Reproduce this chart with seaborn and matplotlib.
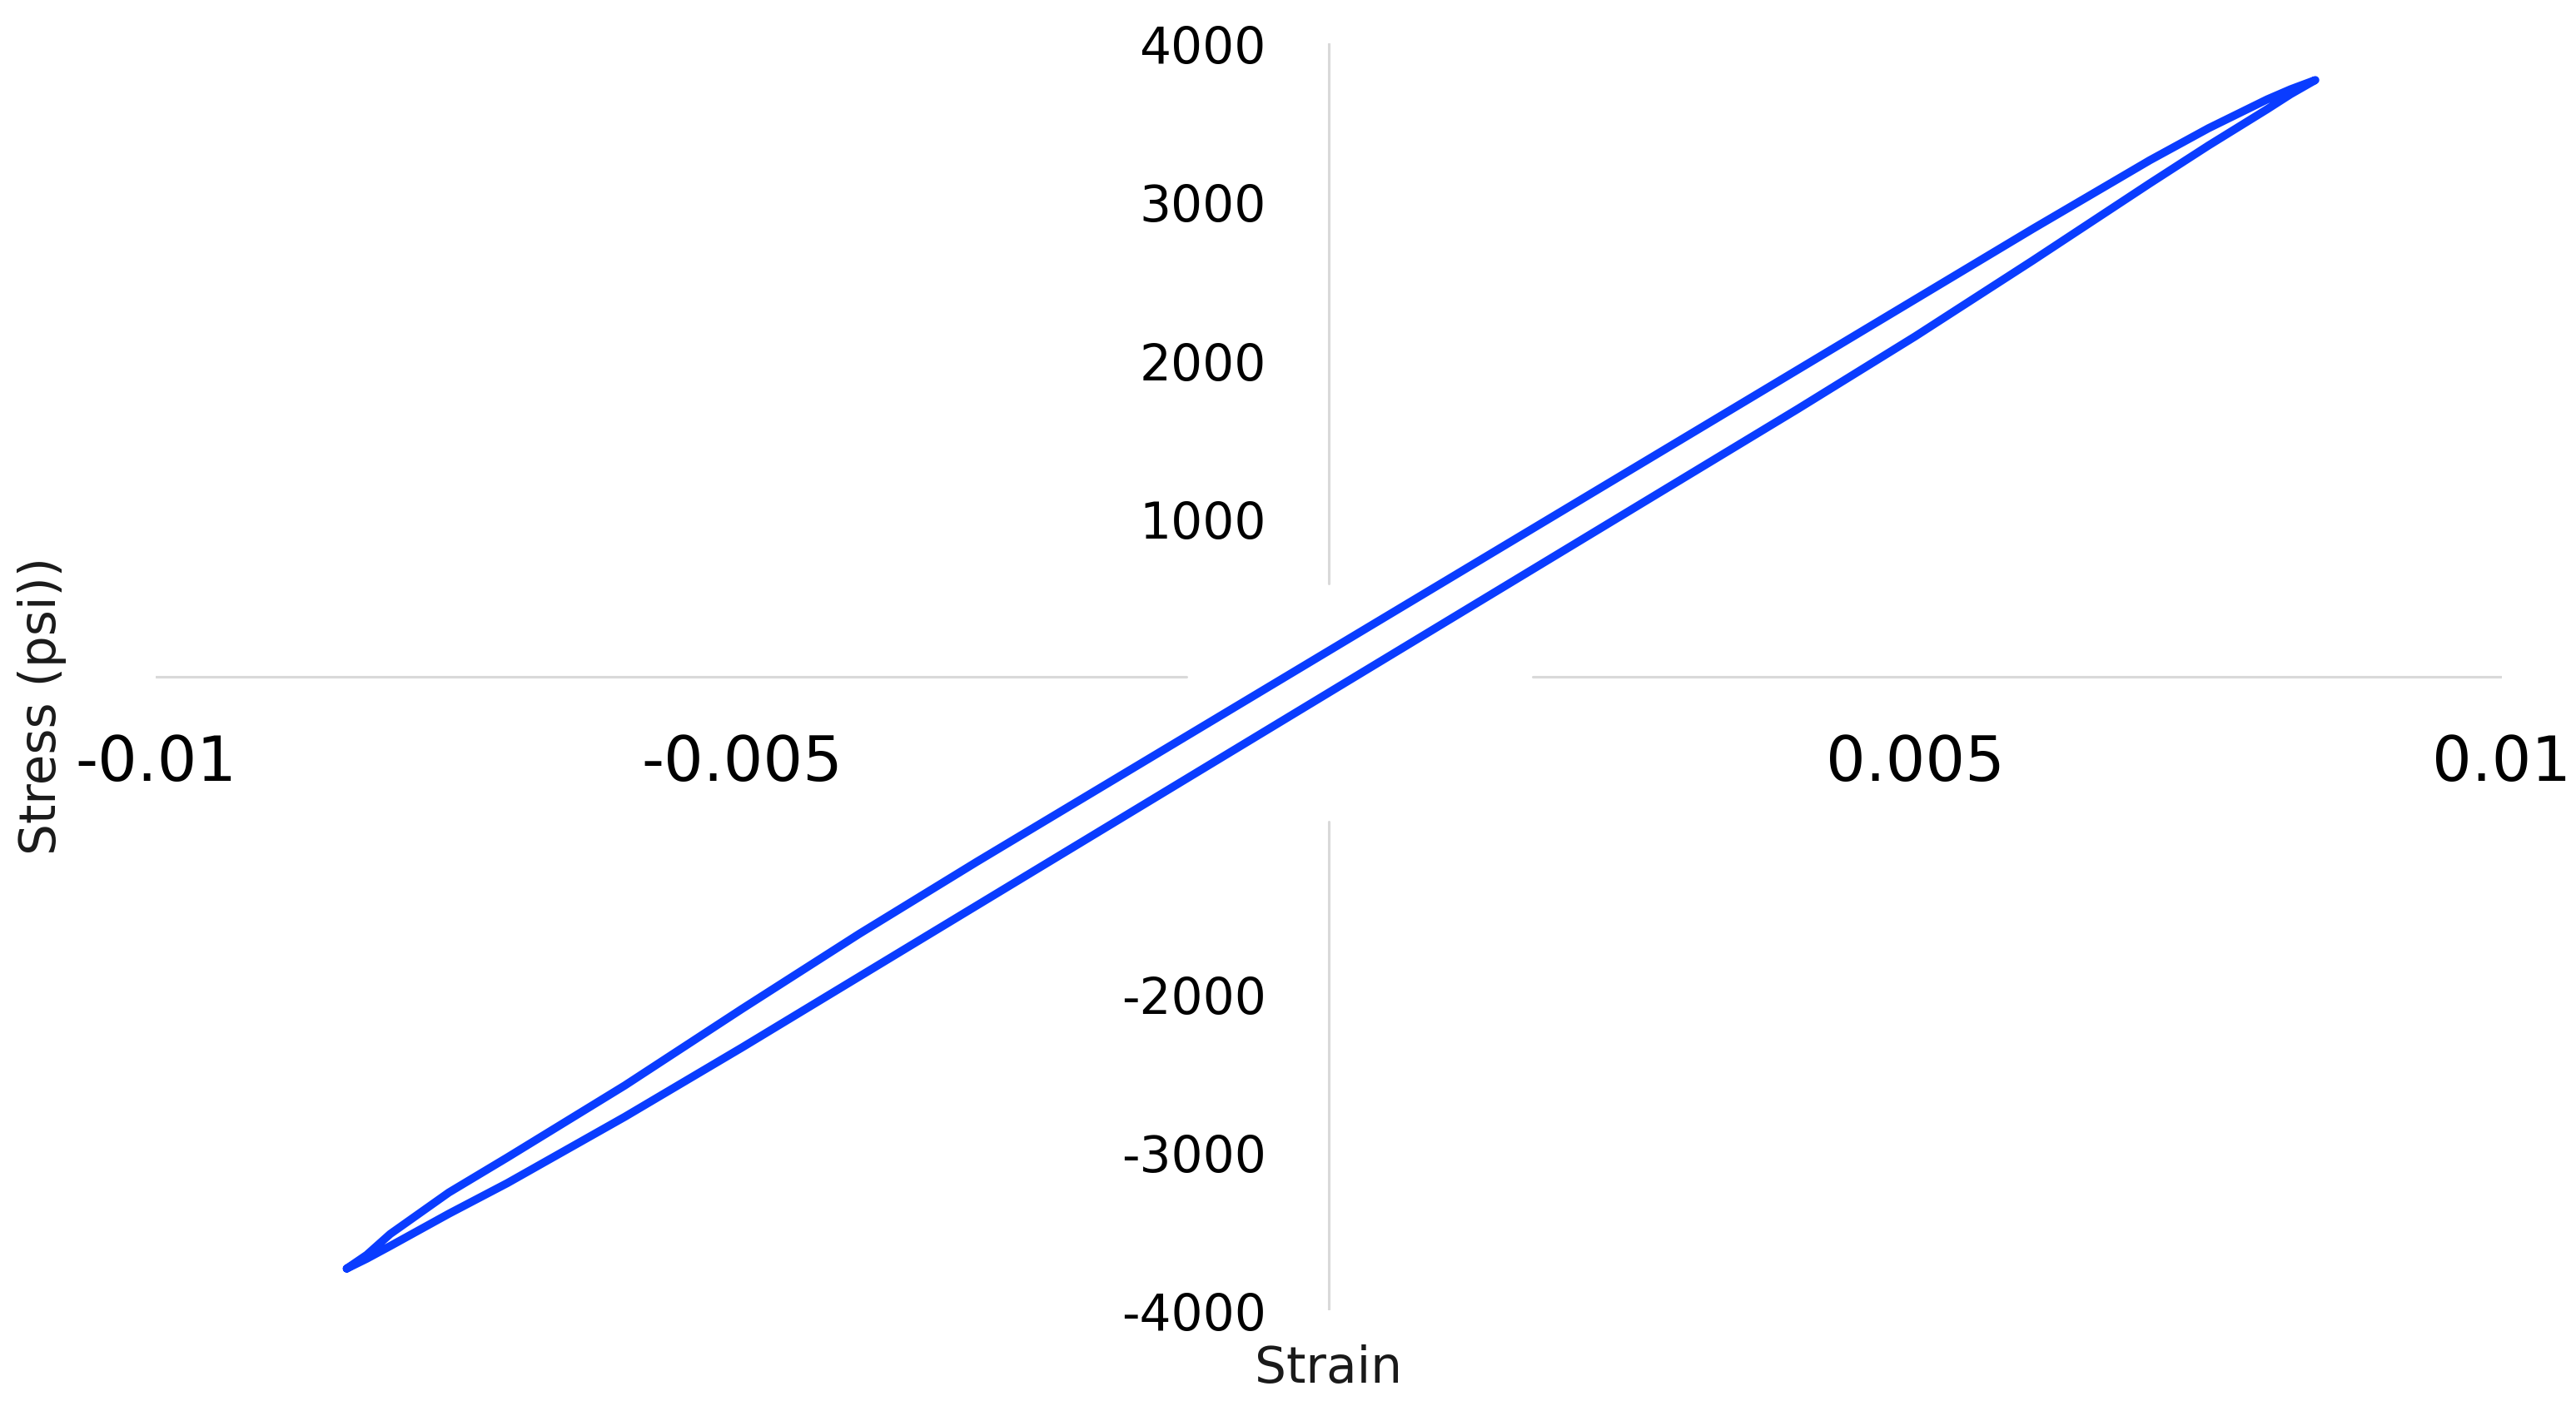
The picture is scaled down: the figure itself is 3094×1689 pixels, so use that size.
import numpy as np
import pandas as pd
import matplotlib
matplotlib.use("Agg")
import matplotlib.pyplot as plt
import seaborn as sns

# lower branch (loading), negative tip -> positive tip
loading_strain = [-0.00837, -0.0082, -0.0080, -0.0075, -0.0070, -0.0060, -0.0050,
                  -0.0040, -0.0030, -0.0020, -0.0010, 0.0, 0.0010, 0.0020, 0.0030,
                  0.0040, 0.0050, 0.0060, 0.0070, 0.0075, 0.0080, 0.0082, 0.00841]
loading_stress = [-3736, -3674, -3594, -3390, -3196, -2778, -2340,
                  -1892, -1444, -996, -548, -100, 348, 796, 1244,
                  1692, 2150, 2628, 3116, 3355, 3584, 3679, 3768]

# upper branch (unloading), positive tip -> negative tip
unloading_strain = [0.00841, 0.0082, 0.0080, 0.0075, 0.0070, 0.0060, 0.0050,
                    0.0040, 0.0030, 0.0020, 0.0010, 0.0, -0.0010, -0.0020, -0.0030,
                    -0.0040, -0.0050, -0.0060, -0.0070, -0.0075, -0.0080, -0.0082, -0.00837]
unloading_stress = [3768, 3710, 3646, 3464, 3262, 2828, 2384,
                    1940, 1496, 1052, 608, 164, -280, -724, -1168,
                    -1622, -2096, -2580, -3034, -3256, -3518, -3650, -3736]

x_ticks = [-0.01, -0.005, 0.005, 0.01]
x_tick_labels = ["-0.01", "-0.005", "0.005", "0.01"]
y_ticks = [-4000, -3000, -2000, 1000, 2000, 3000, 4000]
y_tick_labels = ["-4000", "-3000", "-2000", "1000", "2000", "3000", "4000"]

df = pd.DataFrame({
    "Strain": loading_strain + unloading_strain,
    "Stress": loading_stress + unloading_stress,
})

sns.set_style("white")
plt.rcParams["font.family"] = ["DejaVu Sans"]

fig = plt.figure(figsize=(15.47, 8.45), dpi=200)
ax = fig.add_axes([0.0604, 0.068, 0.9108, 0.9006])

# axis lines through the origin (with the blank patch around the middle)
axis_col = "#d9d9d9"
ax.axhline(0, 0.0, 0.4395, color=axis_col, lw=1.1, zorder=1)
ax.axhline(0, 0.587, 1.0, color=axis_col, lw=1.1, zorder=1)
ax.axvline(0, 0.0, 0.386, color=axis_col, lw=1.1, zorder=1)
ax.axvline(0, 0.5736, 1.0, color=axis_col, lw=1.1, zorder=1)

sns.lineplot(data=df, x="Strain", y="Stress", sort=False, estimator=None,
             color="#0a3cff", lw=3.5, ax=ax, zorder=3,
             solid_joinstyle="round", solid_capstyle="round")

ax.set_xlim(-0.01, 0.01)
ax.set_ylim(-4000, 4000)

for side in ["top", "right"]:
    ax.spines[side].set_visible(False)
ax.spines["bottom"].set_position(("data", 0))
ax.spines["left"].set_position(("data", 0))
ax.spines["bottom"].set_color("none")
ax.spines["left"].set_color("none")

ax.set_xticks(x_ticks, x_tick_labels)
ax.set_yticks(y_ticks, y_tick_labels)
ax.tick_params(axis="x", length=0, pad=24, labelsize=27, labelcolor="black")
ax.tick_params(axis="y", length=0, pad=27, labelsize=21.5, labelcolor="black")

ax.set_xlabel("Strain", fontsize=21.5, color="#1a1a1a")
ax.xaxis.set_label_coords(0.5, -0.026)
ax.set_ylabel("Stress (psi))", fontsize=21.5, color="#1a1a1a")
ax.yaxis.set_label_coords(-0.038, 0.478)

fig.savefig("out.png", dpi=200)
